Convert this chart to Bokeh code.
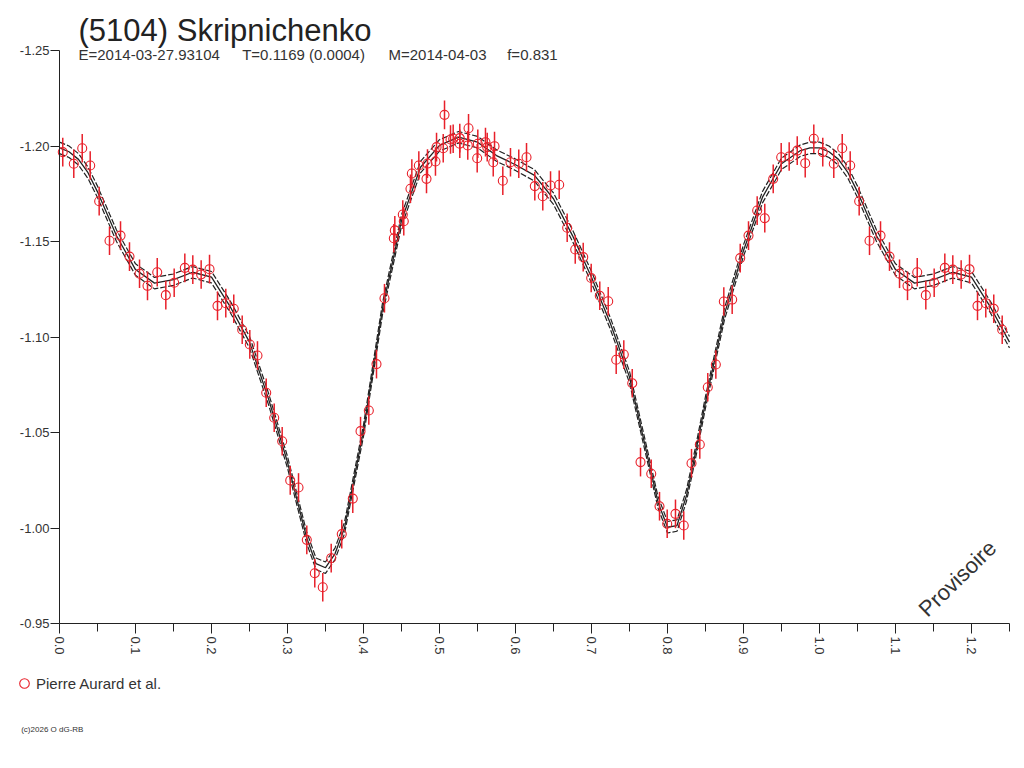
import math
import numpy as np
from bokeh.plotting import figure
from bokeh.models import (Range1d, FixedTicker, PrintfTickFormatter, Label,
                          Legend, LegendItem, ColumnDataSource)
from bokeh.embed import file_html
from bokeh.resources import INLINE

# ---------------- data ----------------
PHASE = [0.0043, 0.0188, 0.0299, 0.0404, 0.0522, 0.0658, 0.0803, 0.0921, 0.1053, 0.1158,
         0.1286, 0.1399, 0.1509, 0.1649, 0.1754, 0.1864, 0.1974, 0.2079, 0.2188, 0.2293,
         0.2404, 0.2504, 0.2605, 0.2720, 0.2825, 0.2930, 0.3036, 0.3145, 0.3254, 0.3359,
         0.3464, 0.3575, 0.3714, 0.3859, 0.3961, 0.4070, 0.4171, 0.4276, 0.4399, 0.4412,
         0.4517, 0.4530, 0.4618, 0.4636, 0.4728, 0.4829, 0.4842, 0.4947, 0.4961, 0.5049,
         0.5066, 0.5145, 0.5180, 0.5267, 0.5267, 0.5382, 0.5372, 0.5496, 0.5504, 0.5605,
         0.5628, 0.5707, 0.5724, 0.5833, 0.5934, 0.6043, 0.6145, 0.6254, 0.6359, 0.6461,
         0.6575, 0.6680, 0.6786, 0.6891, 0.6996, 0.7109, 0.7220, 0.7325, 0.7425, 0.7536,
         0.7645, 0.7786, 0.7895, 0.7996, 0.8105, 0.8214, 0.8316, 0.8425, 0.8530, 0.8636,
         0.8741, 0.8851, 0.8957, 0.9066, 0.9180, 0.9280, 0.9391, 0.9496, 0.9601, 0.9707,
         0.9812, 0.9925]

MAG = [-1.1968, -1.1907, -1.1988, -1.1898, -1.1711, -1.1504, -1.1531, -1.1421, -1.1331, -1.1268,
       -1.1339, -1.1219, -1.1284, -1.1362, -1.1353, -1.1327, -1.1355, -1.1163, -1.1177, -1.1148,
       -1.1038, -1.0961, -1.0903, -1.0708, -1.0577, -1.0454, -1.0249, -1.0212, -0.9938, -0.9763,
       -0.9690, -0.9842, -0.9968, -1.0154, -1.0507, -1.0615, -1.0858, -1.1203, -1.1517, -1.1558,
       -1.1641, -1.1606, -1.1776, -1.1856, -1.1898, -1.1828, -1.1908, -1.1919, -1.1994, -1.1988,
       -1.2163, -1.2034, -1.2038, -1.2012, -1.2041, -1.2093, -1.2003, -1.1936, -1.2012, -1.2020,
       -1.1994, -1.1915, -1.1999, -1.1818, -1.1915, -1.1907, -1.1941, -1.1790, -1.1737, -1.1793,
       -1.1797, -1.1572, -1.1458, -1.1418, -1.1309, -1.1216, -1.1187, -1.0881, -1.0908, -1.0758,
       -1.0345, -1.0284, -1.0114, -1.0022, -1.0074, -1.0013, -1.0339, -1.0437, -1.0737, -1.0856,
       -1.1186, -1.1196, -1.1413, -1.1531, -1.1662, -1.1622, -1.1828, -1.1941, -1.1945, -1.1976,
       -1.1910, -1.2038]

ERR = 0.0075          # typical error bar half-length (mag)

FIT_PHASE = [0.0, 0.0125, 0.025, 0.0375, 0.05, 0.075, 0.1, 0.125, 0.15, 0.175,
             0.2, 0.225, 0.25, 0.275, 0.3, 0.325, 0.3375, 0.35, 0.3625, 0.375,
             0.4, 0.425, 0.45, 0.475, 0.5, 0.525, 0.55, 0.575, 0.6, 0.625,
             0.65, 0.675, 0.7, 0.725, 0.75, 0.775, 0.7875, 0.8, 0.8125, 0.825,
             0.8375, 0.85, 0.875, 0.9, 0.925, 0.95, 0.975, 0.9875, 1.0]
FIT_MAG = [-1.199, -1.197, -1.193, -1.186, -1.176, -1.153, -1.1353, -1.1282, -1.1300, -1.1339,
           -1.1313, -1.1156, -1.0973, -1.0676, -1.0344, -0.9952, -0.9813, -0.9792, -0.9865, -1.0000,
           -1.0510, -1.1148, -1.1610, -1.1889, -1.2003, -1.2046, -1.2020, -1.1950, -1.1902, -1.1846,
           -1.1724, -1.1531, -1.1313, -1.1069, -1.0790, -1.0353, -1.0135, -1.0004, -1.0013, -1.0170,
           -1.0406, -1.0659, -1.1121, -1.1453, -1.1732, -1.1907, -1.1976, -1.1990, -1.199]
FIT_BAND = 0.003      # half-width of the uncertainty curves (mag)

X_MIN, X_MAX = 0.0, 1.25
Y_TOP, Y_BOTTOM = -1.25, -0.95
X_TICKS = [0.0, 0.1, 0.2, 0.3, 0.4, 0.5, 0.6, 0.7, 0.8, 0.9, 1.0, 1.1, 1.2]
X_MINOR = [0.05, 0.15, 0.25, 0.35, 0.45, 0.55, 0.65, 0.75, 0.85, 0.95, 1.05, 1.15, 1.25]
Y_TICKS = [-1.25, -1.20, -1.15, -1.10, -1.05, -1.00, -0.95]

TITLE = "(5104) Skripnichenko"
SUB_E = "E=2014-03-27.93104"
SUB_T = "T=0.1169 (0.0004)"
SUB_M = "M=2014-04-03"
SUB_F = "f=0.831"
LEGEND_LABEL = "Pierre Aurard et al."
WATERMARK = "Provisoire"
FOOTER = "(c)2026 O dG-RB"

RED = "#e8202a"
INK = "#222222"
GREY = "#333333"
FONT = "Liberation Sans"

# ---------------- page geometry (pixels) ----------------
W, H = 1018, 750
AX_L, AX_R = 59, 1009        # pixel columns of phase 0 and 1.25
AX_T, AX_B = 50, 623         # pixel rows of -1.25 and -0.95
KX = (X_MAX - X_MIN) / (AX_R - AX_L)
KY = (Y_BOTTOM - Y_TOP) / (AX_B - AX_T)


def sx(px):
    return X_MIN + (px - AX_L) * KX


def sy(py):
    return Y_TOP + (py - AX_T) * KY


# ---------------- phase-wrapped copies (phase + 1 up to 1.25) ----------------
ph = np.array(PHASE)
mg = np.array(MAG)
wrap = ph < 0.25
px = np.concatenate([ph, ph[wrap] + 1.0])
py = np.concatenate([mg, mg[wrap]])

fph = np.array(FIT_PHASE)
fmg = np.array(FIT_MAG)
fw = (fph > 0) & (fph <= 0.25)
fx = np.concatenate([fph, fph[fw] + 1.0])
fy = np.concatenate([fmg, fmg[fw]])

pts = ColumnDataSource(dict(x=px, y=py, lo=py - ERR, hi=py + ERR))
fit = ColumnDataSource(dict(x=fx, y=fy, up=fy - FIT_BAND, dn=fy + FIT_BAND))

# ---------------- figure: frame = whole canvas, axes pinned ----------------
p = figure(width=W, height=H, output_backend="svg", toolbar_location=None,
           x_range=Range1d(sx(0), sx(W)), y_range=Range1d(sy(H), sy(0)),
           min_border=0)
p.outline_line_color = None
p.grid.visible = False

xa = p.xaxis[0]
xa.fixed_location = Y_BOTTOM
xa.bounds = (X_MIN, X_MAX)
xa.ticker = FixedTicker(ticks=X_TICKS, minor_ticks=X_MINOR)
xa.formatter = PrintfTickFormatter(format="%.1f")
xa.major_label_orientation = -math.pi / 2
xa.major_tick_in = 0
xa.major_tick_out = 10
xa.minor_tick_in = 0
xa.minor_tick_out = 8
xa.major_label_standoff = 3

ya = p.yaxis[0]
ya.fixed_location = X_MIN
ya.bounds = (Y_TOP, Y_BOTTOM)
ya.ticker = FixedTicker(ticks=Y_TICKS, minor_ticks=[])
ya.formatter = PrintfTickFormatter(format="%.2f")
ya.major_tick_in = 0
ya.major_tick_out = 9
ya.minor_tick_out = 0
ya.minor_tick_in = 0
ya.major_label_standoff = 1

for ax in (xa, ya):
    ax.axis_line_color = INK
    ax.major_tick_line_color = INK
    ax.minor_tick_line_color = INK
    ax.major_label_text_color = GREY
    ax.major_label_text_font = FONT
    ax.major_label_text_font_size = "13px"

# fit curve with its uncertainty curves
p.line("x", "up", source=fit, line_color=INK, line_width=1.2, line_dash="6 2")
p.line("x", "dn", source=fit, line_color=INK, line_width=1.2, line_dash="6 2")
p.line("x", "y", source=fit, line_color=INK, line_width=1.3)

# measurements
p.segment(x0="x", y0="lo", x1="x", y1="hi", source=pts, line_color=RED, line_width=1.5)
r = p.scatter("x", "y", source=pts, marker="circle", size=9, fill_color=None,
              line_color=RED, line_width=1.1)

# legend below the axis, lower left
legend = Legend(items=[LegendItem(label=LEGEND_LABEL, renderers=[r], index=0)],
                location=(12, H - 696), orientation="vertical",
                border_line_color=None, background_fill_alpha=0,
                padding=0, margin=0, spacing=0,
                glyph_width=24, glyph_height=26, label_standoff=0,
                label_text_font=FONT, label_text_font_size="15px",
                label_text_color=GREY)
p.add_layout(legend)

# texts
p.add_layout(Label(x=sx(78), y=sy(30), text=TITLE, text_font=FONT,
                   text_font_size="31px", text_color=INK, text_baseline="alphabetic"))
for xpix, t in ((78, SUB_E), (241.7, SUB_T), (388, SUB_M), (506.7, SUB_F)):
    p.add_layout(Label(x=sx(xpix), y=sy(54), text=t, text_font=FONT,
                       text_font_size="15px", text_color=GREY,
                       text_baseline="alphabetic"))
p.add_layout(Label(x=sx(957), y=sy(578), text=WATERMARK, text_font=FONT,
                   text_font_size="22px", text_color=GREY, angle=0.77,
                   text_align="center", text_baseline="middle"))
p.add_layout(Label(x=sx(20.7), y=sy(728.7), text=FOOTER, text_font=FONT,
                   text_font_size="8px", text_color=GREY,
                   text_baseline="alphabetic"))

open("out.html", "w").write(file_html(p, INLINE))
